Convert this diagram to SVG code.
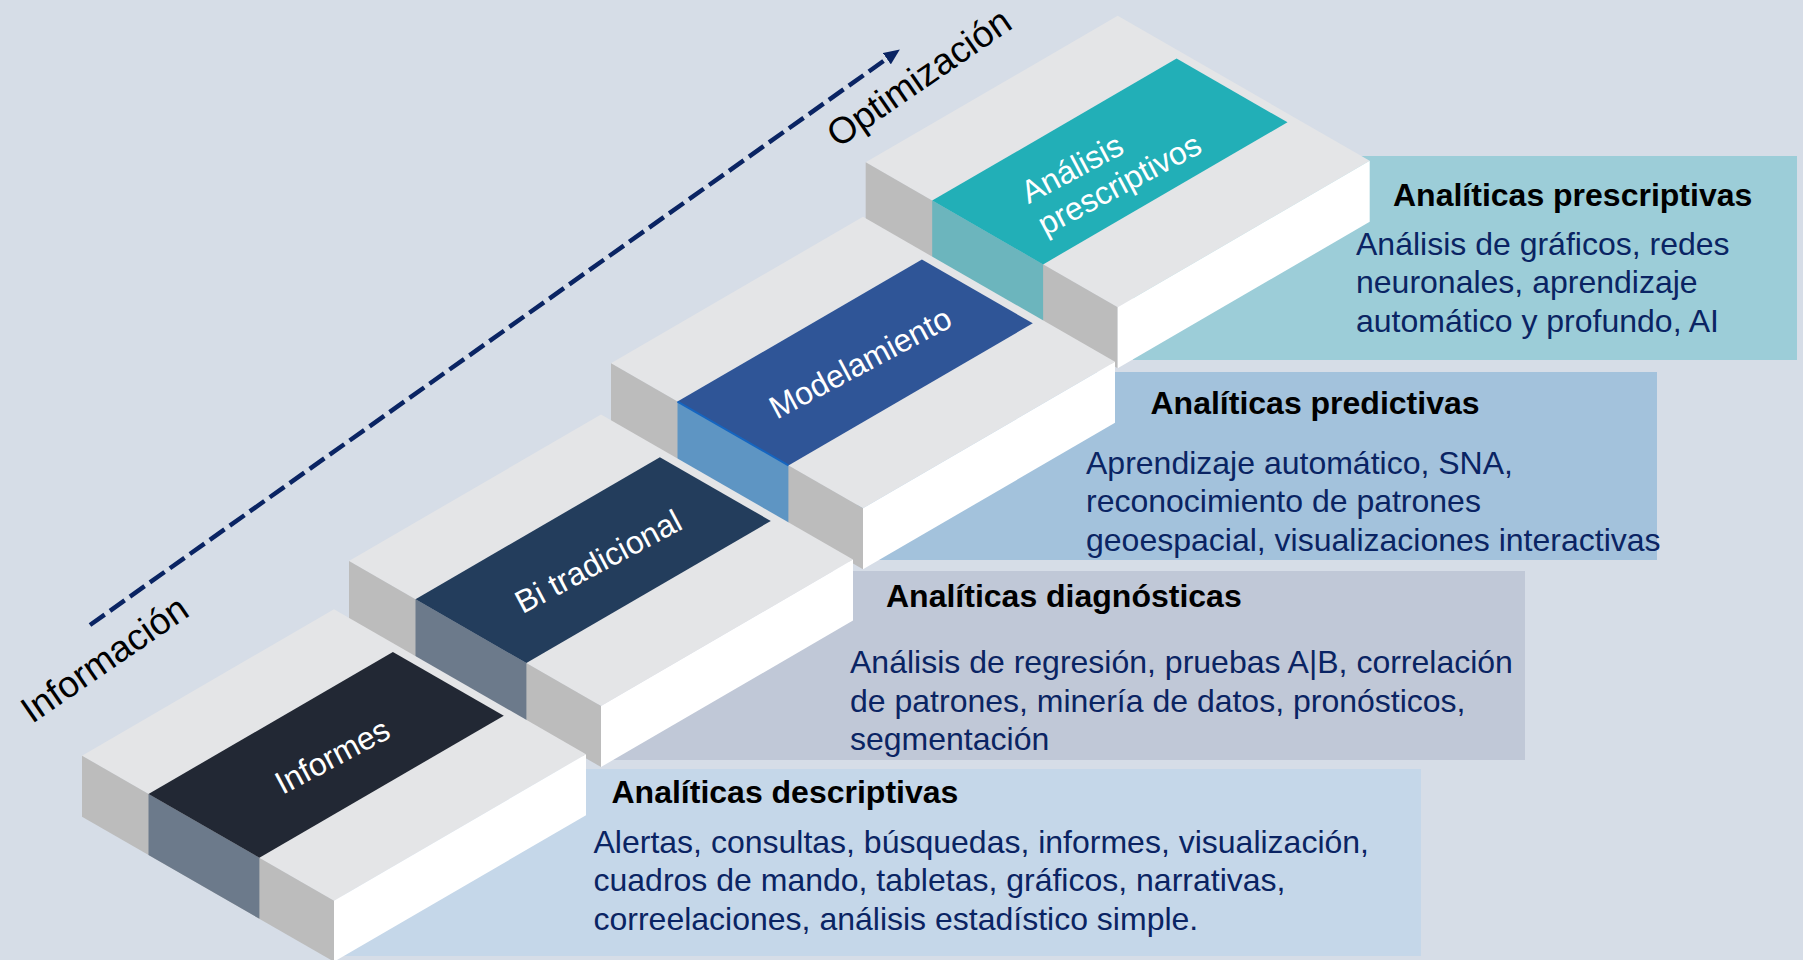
<svg xmlns="http://www.w3.org/2000/svg" width="1803" height="960" viewBox="0 0 1803 960">
  <defs>
    <style>
      .top{fill:#e4e5e7}
      .left{fill:#bcbcbc}
      .right{fill:#ffffff}
      .lbl{font-family:"Liberation Sans",Arial,sans-serif;font-size:32px;fill:#ffffff}
      .axis{font-family:"Liberation Sans",Arial,sans-serif;font-size:37px;fill:#000000}
      .ttl{font-family:"Liberation Sans",Arial,sans-serif;font-size:32px;font-weight:bold;fill:#000000}
      .body{font-family:"Liberation Sans",Arial,sans-serif;font-size:32px;fill:#0a2463}
    </style>
    <marker id="arrowhead" markerUnits="userSpaceOnUse" markerWidth="16" markerHeight="14" refX="0" refY="7" orient="auto">
      <path d="M0,0 L16,7 L0,14 z" fill="#0a2463"/>
    </marker>
    <g id="blockShape">
      <polygon class="top" points="0,0 252,-146.5 504,-1.5 252,145"/>
      <polygon class="left" points="0,0 252,145 252,206 0,61"/>
      <polygon class="right" points="252,145 504,-1.5 504,59.5 252,206"/>
    </g>
  </defs>

  <rect x="0" y="0" width="1803" height="960" fill="#d6dde7"/>

  <!-- text boxes -->
  <g id="box-descriptivas">
    <rect x="343" y="769" width="1078" height="187" fill="#c5d7e9"/>
    <text class="ttl" x="611.5" y="803">Analíticas descriptivas</text>
    <text class="body" x="593.5" y="852.5">Alertas, consultas, búsquedas, informes, visualización,</text>
    <text class="body" x="593.5" y="891">cuadros de mando, tabletas, gráficos, narrativas,</text>
    <text class="body" x="593.5" y="929.5">correelaciones, análisis estadístico simple.</text>
  </g>
  <g id="box-diagnosticas">
    <rect x="598" y="571" width="927" height="189" fill="#c0c8d7"/>
    <text class="ttl" x="886" y="607">Analíticas diagnósticas</text>
    <text class="body" x="850" y="672.5">Análisis de regresión, pruebas A|B, correlación</text>
    <text class="body" x="850" y="711.5">de patrones, minería de datos, pronósticos,</text>
    <text class="body" x="850" y="749.5">segmentación</text>
  </g>
  <g id="box-predictivas">
    <rect x="857" y="372" width="800" height="188" fill="#a3c2dc"/>
    <text class="ttl" x="1150.5" y="413.5">Analíticas predictivas</text>
    <text class="body" x="1086" y="473.5">Aprendizaje automático, SNA,</text>
    <text class="body" x="1086" y="512">reconocimiento de patrones</text>
    <text class="body" x="1086" y="550.5">geoespacial, visualizaciones interactivas</text>
  </g>
  <g id="box-prescriptivas">
    <rect x="1133" y="156" width="664" height="204" fill="#9ccdd8"/>
    <text class="ttl" x="1393" y="206">Analíticas prescriptivas</text>
    <text class="body" x="1356" y="255">Análisis de gráficos, redes</text>
    <text class="body" x="1356" y="293">neuronales, aprendizaje</text>
    <text class="body" x="1356" y="331.5">automático y profundo, AI</text>
  </g>

  <!-- connector: dashed arrow -->
  <g id="connectors">
    <line x1="90" y1="625" x2="886.8" y2="58.7" stroke="#0a2463" stroke-width="4.5" stroke-dasharray="18 6.5" marker-end="url(#arrowhead)"/>
  </g>

  <text class="axis" text-anchor="middle" dy="0.36em" transform="translate(104 658.5) rotate(-34.5)">Información</text>
  <text class="axis" text-anchor="middle" dy="0.36em" transform="translate(918.5 77) rotate(-34.5)">Optimización</text>

  <!-- step 4 -->
  <g id="step-analisis" transform="translate(865.7 162.3)">
    <use href="#blockShape"/>
    <polygon fill="#6cb5bd" points="66.5,38.3 177.4,102.1 177.4,163.1 66.5,99.3"/>
    <polygon fill="#22afb7" points="66.5,38.3 310.9,-103.8 421.8,-40 177.4,102.1"/>
    <text class="lbl" transform="translate(252.3 1.7) rotate(-28)">
      <tspan x="-98" y="-6.5">Análisis</tspan>
      <tspan x="-98" y="29.5">prescriptivos</tspan>
    </text>
  </g>

  <!-- step 3 -->
  <g id="step-modelamiento" transform="translate(611 363.3)">
    <use href="#blockShape"/>
    <polygon fill="#5e95c3" points="66.5,38.3 177.4,102.1 177.4,163.1 66.5,99.3"/>
    <polygon fill="#2f5597" points="66.5,38.3 310.9,-103.8 421.8,-40 177.4,102.1"/>
    <line x1="66.5" y1="38.3" x2="177.4" y2="102.1" stroke="#1565c0" stroke-width="2"/>
    <text class="lbl" text-anchor="middle" dy="0.36em" transform="translate(249 -1) rotate(-28)">Modelamiento</text>
  </g>

  <!-- step 2 -->
  <g id="step-bi" transform="translate(349 561)">
    <use href="#blockShape"/>
    <polygon fill="#6c7a8b" points="66.5,38.3 177.4,102.1 177.4,163.1 66.5,99.3"/>
    <polygon fill="#233d5c" points="66.5,38.3 310.9,-103.8 421.8,-40 177.4,102.1"/>
    <text class="lbl" text-anchor="middle" dy="0.36em" transform="translate(249 0) rotate(-28)">Bi tradicional</text>
  </g>

  <!-- step 1 -->
  <g id="step-informes" transform="translate(82 755.7)">
    <use href="#blockShape"/>
    <polygon fill="#6c7a8b" points="66.5,38.3 177.4,102.1 177.4,163.1 66.5,99.3"/>
    <polygon fill="#222834" points="66.5,38.3 310.9,-103.8 421.8,-40 177.4,102.1"/>
    <text class="lbl" text-anchor="middle" dy="0.36em" transform="translate(250 0) rotate(-28)">Informes</text>
  </g>
</svg>
